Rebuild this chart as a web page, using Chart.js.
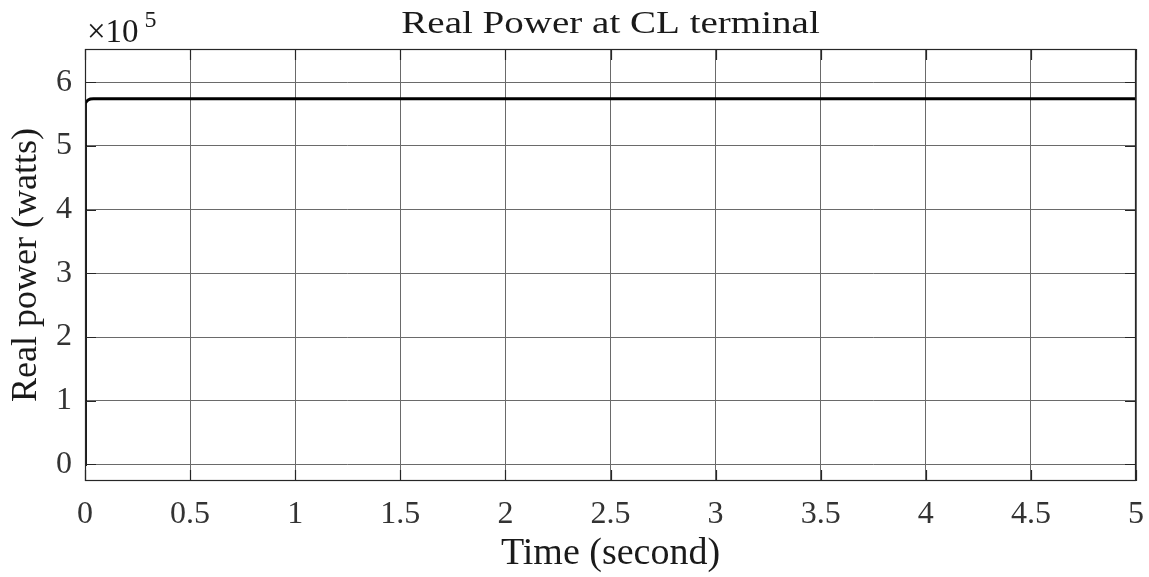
<!DOCTYPE html>
<html>
<head>
<meta charset="utf-8">
<script src="https://cdn.jsdelivr.net/npm/chart.js@4/dist/chart.umd.min.js"></script>
<style>
html,body{margin:0;padding:0;background:#fff;}
#wrap{width:1149px;height:577px;}
</style>
</head>
<body>
<div id="wrap"><canvas id="c" width="1149" height="577"></canvas></div>
<script>
// Data (power in units of 1e5 W)
const timeS   = [0, 0.0005, 0.001, 0.002, 0.004, 0.008, 0.015, 0.025, 0.04, 1, 2, 3, 4, 5];
const powerE5 = [0, 5.45, 5.58, 5.63, 5.67, 5.70, 5.72, 5.735, 5.74, 5.74, 5.74, 5.74, 5.74, 5.74];
const xTicks  = [0, 0.5, 1, 1.5, 2, 2.5, 3, 3.5, 4, 4.5, 5];
const yTicks  = [0, 1, 2, 3, 4, 5, 6];
const titleText = 'Real Power at CL terminal';
const xTitle = 'Time (second)';
const yTitle = 'Real power (watts)';

const serif = '"Liberation Serif", "Times New Roman", serif';
const gridCol = '#6a6a6a';
const boxCol = '#262626';
const textCol = '#1a1a1a';

const extras = {
  id: 'extras',
  afterDraw(chart) {
    const ctx = chart.ctx, a = chart.chartArea;
    const xs = chart.scales.x, ys = chart.scales.y;
    ctx.save();
    // box
    ctx.strokeStyle = boxCol; ctx.lineWidth = 1.2;
    ctx.strokeRect(a.left + 0.5, a.top + 0.5, a.right - a.left - 1, a.bottom - a.top - 1);
    // inward ticks
    const tl = 11;
    ctx.beginPath();
    xTicks.forEach(v => {
      const px = Math.round(xs.getPixelForValue(v)) + 0.5;
      ctx.moveTo(px, a.bottom); ctx.lineTo(px, a.bottom - tl);
      ctx.moveTo(px, a.top); ctx.lineTo(px, a.top + tl);
    });
    yTicks.forEach(v => {
      const py = Math.round(ys.getPixelForValue(v)) + 0.5;
      ctx.moveTo(a.left, py); ctx.lineTo(a.left + tl, py);
      ctx.moveTo(a.right, py); ctx.lineTo(a.right - tl, py);
    });
    ctx.stroke();
    // title (slightly widened like the reference)
    ctx.fillStyle = textCol;
    ctx.font = '32px ' + serif;
    ctx.textAlign = 'center'; ctx.textBaseline = 'alphabetic';
    ctx.save();
    ctx.translate((a.left + a.right) / 2, 33);
    ctx.scale(1.22, 1);
    ctx.fillText(titleText, 0, 0);
    ctx.restore();
    // exponent label
    ctx.textAlign = 'left';
    ctx.font = '33px ' + serif;
    ctx.fillText('\u00d710', 87, 42);
    const w = ctx.measureText('\u00d710').width;
    ctx.font = '24px ' + serif;
    ctx.fillText('5', 87 + w + 6, 27);
    ctx.restore();
  }
};

new Chart(document.getElementById('c'), {
  type: 'scatter',
  data: {
    datasets: [{
      data: timeS.map((t, i) => ({x: t, y: powerE5[i]})),
      showLine: true,
      borderColor: '#000',
      borderWidth: 3,
      pointRadius: 0,
      tension: 0,
      fill: false
    }]
  },
  options: {
    responsive: false,
    animation: false,
    devicePixelRatio: 1,
    layout: { padding: { left: 0, right: 13, top: 49, bottom: 0 } },
    plugins: { legend: { display: false }, tooltip: { enabled: false }, title: { display: false } },
    scales: {
      x: {
        type: 'linear', min: 0, max: 5,
        afterFit(s) { s.height = 96; s.paddingLeft = 0; s.paddingRight = 0; },
        afterBuildTicks(s) { s.ticks = xTicks.map(v => ({value: v})); },
        grid: { color: gridCol, lineWidth: 1, drawTicks: false },
        border: { display: false },
        ticks: { color: '#333', font: { family: serif, size: 32 }, padding: 14, maxRotation: 0, autoSkip: false,
                 callback: v => String(v) },
        title: { display: true, text: xTitle, color: textCol, font: { family: serif, size: 38 }, padding: { top: 0, bottom: 0 } }
      },
      y: {
        type: 'linear', min: -0.26, max: 6.52,
        afterFit(s) { s.width = 85; s.paddingTop = 0; s.paddingBottom = 0; },
        afterBuildTicks(s) { s.ticks = yTicks.map(v => ({value: v})); },
        grid: { color: gridCol, lineWidth: 1, drawTicks: false },
        border: { display: false },
        ticks: { color: '#333', font: { family: serif, size: 32 }, padding: 13, autoSkip: false,
                 callback: v => String(v) },
        title: { display: true, text: yTitle, color: textCol, font: { family: serif, size: 36 }, padding: { top: 5, bottom: 0 } }
      }
    }
  },
  plugins: [extras]
});
</script>
</body>
</html>
